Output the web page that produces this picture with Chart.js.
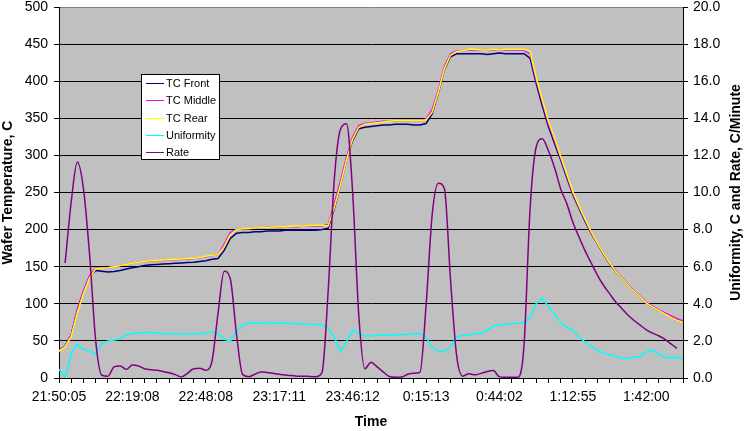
<!DOCTYPE html>
<html><head><meta charset="utf-8">
<script src="https://cdn.jsdelivr.net/npm/chart.js@4.4.0/dist/chart.umd.min.js"></script>
<style>html,body{margin:0;padding:0;background:#fff;}canvas{display:block;}</style>
</head><body>
<canvas id="c" width="750" height="431"></canvas>
<script>
// Category tick labels (one every 6 tick marks)
const timeLabels = ['21:50:05','22:19:08','22:48:08','23:17:11','23:46:12','0:15:13','0:44:02','1:12:55','1:42:00'];
const tickCount = 51; // minor tick marks along the time axis
// sample positions along the category axis (in tick units, half-tick spacing)
const sampleIndex = [];
for (let i = 0; i <= 102; i++) sampleIndex.push(i * 0.5);

const tcFront = [37,43,58,92,117,137, 145,144,143,143.5,145,147, 148.5,150,151.5,152.5,153,153.5,
  154,154.5,155,155.5,156,157, 158,160,161,172,188,195, 196,196,197,197,198,198,
  198,199,199,199,199,199, 199,200,202,228,260,294, 320,336,338,339,340,341,
  341,342,342,342,341,341, 343,356,384,416,433,437, 437,437,437,437,436,437,
  438,437,437,437,437,431, 397,367,339,316,294,270, 247,229,211,195,181,167,
  154,144,134,125,117,109, 101,96,91,87,83,79, 76];
const tcMiddle = [37,43,58,92,117,138, 148,148,148.5,150,151.5,153, 154.5,156,157,157.5,158,158.5,
  159,159.5,160,160.5,161,162, 163.5,165,166,180,196,200, 201,201,202,202,203,203,
  203,204,204,204,205,205, 205,205,207,235,265,298, 325,340,343,344,345,346,
  346,347,347,347,347,347, 349,362,388,420,437,441, 441,442,442,442,442,442,
  442,442,442,442,442,437, 402,372,343,320,297,273, 249,231,213,196,182,168,
  155,145,135,126,118,110, 102,97,92,88,84,80, 77];
const tcRear = [36,42,56,88,114,135, 147,148,148.5,150,151.5,153, 154.5,156,157,158,158.5,159,
  159.5,160,160.5,161,161.5,162.5, 164,165.5,166,177,193,200, 201,201.5,202,202.5,203,203.5,
  204,204,204.5,205,205,205.5, 206,206,205,230,260,294, 322,338,342,343,344,345,
  346,347,347,347,347,347, 348,358,385,417,435,440, 441,443,443,442,442,443,
  442,443,443,443,443,440, 405,375,346,323,299,275, 251,232,214,197,182,168,
  155,144,134,125,117,109, 101,96,91,86.5,82,78, 75];
const uniformity = [0.47,0.05,1.3,1.83,1.55,1.45, 1.28,1.85,2.0,2.05,2.1,2.32, 2.4,2.44,2.45,2.45,2.43,2.4,
  2.37,2.37,2.37,2.37,2.38,2.38, 2.41,2.5,2.38,2.1,1.98,2.5, 2.85,2.95,2.97,2.98,2.97,2.96,
  2.95,2.95,2.94,2.93,2.91,2.9, 2.88,2.86,2.7,2.2,1.45,1.95, 2.58,2.4,2.27,2.28,2.3,2.31,
  2.32,2.33,2.34,2.35,2.38,2.41, 2.2,1.65,1.45,1.4,1.7,2.2, 2.3,2.33,2.38,2.42,2.58,2.8,
  2.87,2.9,2.93,2.95,2.95,3.3, 4.0,4.3,3.85,3.45,3.0,2.72, 2.6,2.2,1.93,1.7,1.5,1.35,
  1.25,1.17,1.05,1.05,1.15,1.15, 1.4,1.5,1.3,1.1,1.12,1.1, 1.05];
const rate = [null,6.2,9.5,11.65,10.2,6.65, 2.0,0.15,0.1,0.6,0.65,0.47, 0.7,0.65,0.5,0.45,0.42,0.35,
  0.28,0.18,0.06,0.25,0.5,0.52, 0.42,0.9,3.5,5.75,5.35,2.4, 0.2,0.07,0.2,0.33,0.3,0.25,
  0.2,0.16,0.13,0.1,0.1,0.08, 0.07,0.3,4.7,10.7,13.4,13.7, 10.0,3.4,0.5,0.85,0.6,0.33,
  0.08,0.04,0.05,0.2,0.25,0.3, 3.9,8.8,10.5,10.2,5.3,1.2, 0.1,0.23,0.17,0.25,0.35,0.4,
  0.06,0.04,0.04,0.04,1.7,9.1, 12.45,12.9,12.25,11.35,10.2,9.4, 8.4,7.6,6.85,6.2,5.55,5.0,
  4.55,4.1,3.75,3.4,3.1,2.85, 2.6,2.42,2.28,2.1,1.85,1.6, null];

const pts = arr => arr.map((v, i) => ({x: sampleIndex[i], y: v}));

Chart.defaults.font.family = '"Liberation Sans", Arial, sans-serif';
Chart.defaults.color = '#000';

const bgPlugin = {
  id: 'plotBg',
  beforeDraw(chart) {
    const {ctx, chartArea: a} = chart;
    ctx.save();
    ctx.fillStyle = '#c0c0c0';
    ctx.fillRect(a.left, a.top, a.right - a.left, a.bottom - a.top);
    ctx.restore();
  }
};

const extrasPlugin = {
  id: 'extras',
  afterDraw(chart) {
    const ctx = chart.ctx;
    // right axis title (reads bottom to top)
    ctx.save();
    ctx.font = 'bold 14px "Liberation Sans", Arial, sans-serif';
    ctx.fillStyle = '#000';
    ctx.textAlign = 'center';
    ctx.textBaseline = 'middle';
    ctx.translate(736, (chart.chartArea.top + chart.chartArea.bottom) / 2);
    ctx.rotate(-Math.PI / 2);
    ctx.fillText('Uniformity, C and Rate, C/Minute', 0, 0);
    ctx.restore();
    // legend box
    const x0 = 141.5, y0 = 74.5, w = 78, h = 85;
    ctx.save();
    ctx.fillStyle = '#fff';
    ctx.fillRect(x0, y0, w, h);
    ctx.strokeStyle = '#000';
    ctx.lineWidth = 1;
    ctx.strokeRect(x0, y0, w, h);
    ctx.font = '11px "Liberation Sans", Arial, sans-serif';
    ctx.textAlign = 'left';
    ctx.textBaseline = 'middle';
    chart.data.datasets.forEach((ds, i) => {
      const y = Math.round(83 + i * 17.3) + 0.5;
      ctx.strokeStyle = ds.borderColor;
      ctx.lineWidth = 1;
      ctx.beginPath();
      ctx.moveTo(146, y);
      ctx.lineTo(164, y);
      ctx.stroke();
      ctx.fillStyle = '#000';
      ctx.fillText(ds.label, 166, y);
    });
    ctx.restore();
  }
};

const lineDs = (label, data, color, axis, order, smooth) => ({
  label, data: pts(data), borderColor: color, backgroundColor: color,
  borderWidth: 1.5, pointRadius: 0, tension: smooth ? 0.4 : 0,
  cubicInterpolationMode: smooth ? 'monotone' : 'default',
  yAxisID: axis, order, spanGaps: false
});

new Chart(document.getElementById('c'), {
  type: 'line',
  data: {
    datasets: [
      lineDs('TC Front', tcFront, '#000080', 'y', 5, false),
      lineDs('TC Middle', tcMiddle, '#ff00ff', 'y', 4, false),
      lineDs('TC Rear', tcRear, '#ffff00', 'y', 3, false),
      lineDs('Uniformity', uniformity, '#00ffff', 'y1', 2, false),
      lineDs('Rate', rate, '#800080', 'y1', 1, true)
    ]
  },
  options: {
    responsive: false,
    animation: false,
    devicePixelRatio: 1,
    layout: {padding: {top: 7, left: 0, right: 0, bottom: 0}},
    plugins: {legend: {display: false}, tooltip: {enabled: false}},
    scales: {
      x: {
        type: 'linear', min: 0, max: tickCount,
        afterBuildTicks: s => { const t = []; for (let i = 0; i <= tickCount; i++) t.push({value: i}); s.ticks = t; },
        afterFit: s => { s.height = 53; s.paddingLeft = 0; s.paddingRight = 0; },
        ticks: {
          autoSkip: false, maxRotation: 0, minRotation: 0, padding: 6,
          font: {size: 14},
          callback: v => (v % 6 === 0 ? timeLabels[v / 6] : '')
        },
        grid: {drawOnChartArea: false, tickLength: 5, color: '#000', lineWidth: 1},
        border: {color: '#000', width: 1},
        title: {display: true, text: 'Time', font: {size: 14, weight: 'bold'}, padding: {top: 0, bottom: 0}}
      },
      y: {
        position: 'left', min: 0, max: 500,
        afterFit: s => { s.width = 59; s.paddingTop = 0; s.paddingBottom = 0; },
        ticks: {stepSize: 50, padding: 6, font: {size: 14}},
        grid: {
          color: c => (c.tick && c.tick.value === 500 ? '#808080' : '#000'),
          tickColor: '#000', tickLength: 5, lineWidth: 1
        },
        border: {color: '#000', width: 1},
        title: {display: true, text: 'Wafer Temperature, C', font: {size: 14, weight: 'bold'}, padding: {top: 0, bottom: 0}}
      },
      y1: {
        position: 'right', min: 0, max: 20,
        afterFit: s => { s.width = 67; s.paddingTop = 0; s.paddingBottom = 0; },
        ticks: {stepSize: 2, padding: 5, font: {size: 14}, callback: v => v.toFixed(1)},
        grid: {drawOnChartArea: false, tickLength: 5, color: '#000', lineWidth: 1},
        border: {color: '#000', width: 1}
      }
    }
  },
  plugins: [bgPlugin, extrasPlugin]
});
</script>
</body></html>
